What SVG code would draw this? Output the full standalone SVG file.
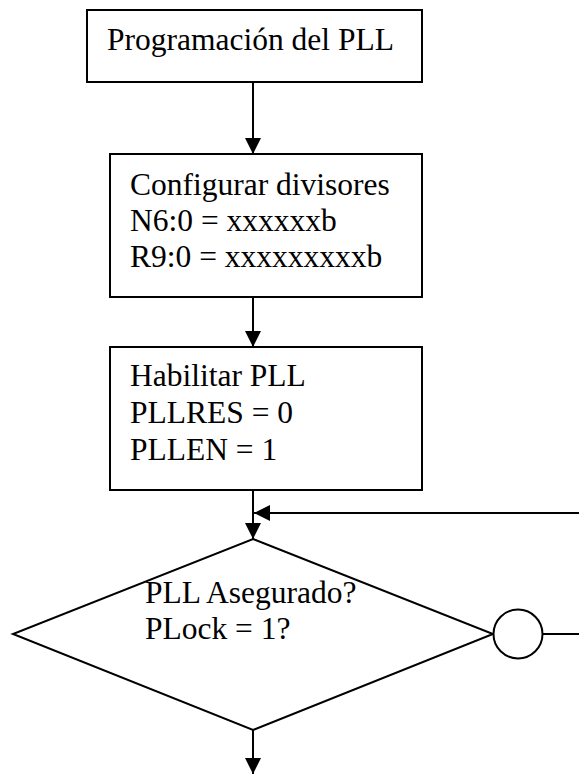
<svg xmlns="http://www.w3.org/2000/svg" width="579" height="774" viewBox="0 0 579 774">
<style>
.s{fill:#fff;stroke:#000;stroke-width:2}
.l{fill:none;stroke:#000;stroke-width:2}
text{font-family:"Liberation Serif","Times New Roman",serif;font-size:31.5px;fill:#000}
</style>
<defs>
<marker id="a" markerUnits="userSpaceOnUse" markerWidth="16" markerHeight="16" refX="16" refY="8" orient="auto" viewBox="0 0 16 16">
<path d="M0,0 L16,8 L0,16 Z" fill="#000"/>
</marker>
</defs>
<rect width="579" height="774" fill="#fff"/>
<g id="connectors">
<line class="l" x1="253" y1="82" x2="253" y2="154" marker-end="url(#a)"/>
<line class="l" x1="253" y1="297" x2="253" y2="347" marker-end="url(#a)"/>
<line class="l" x1="253" y1="490" x2="253" y2="539" marker-end="url(#a)"/>
<line class="l" x1="579" y1="513" x2="254" y2="513" marker-end="url(#a)"/>
<line class="l" x1="542" y1="634" x2="579" y2="634"/>
<line class="l" x1="253" y1="730" x2="253" y2="774" marker-end="url(#a)"/>
</g>
<g id="n1">
<rect class="s" x="87" y="10" width="335" height="72"/>
<text x="107" y="50">Programación del PLL</text>
</g>
<g id="n2">
<rect class="s" x="110" y="154" width="312" height="143"/>
<text x="130" y="195">Configurar divisores</text>
<text x="130" y="231">N6:0 = xxxxxxb</text>
<text x="130" y="267">R9:0 = xxxxxxxxxb</text>
</g>
<g id="n3">
<rect class="s" x="110" y="347" width="312" height="143"/>
<text x="130" y="386">Habilitar PLL</text>
<text x="130" y="423">PLLRES = 0</text>
<text x="130" y="460">PLLEN = 1</text>
</g>
<g id="n4">
<polygon class="s" points="253,539 493,634 253,730 13,634"/>
<text x="145" y="603">PLL Asegurado?</text>
<text x="145" y="639">PLock = 1?</text>
</g>
<g id="n5">
<circle class="s" cx="518" cy="634" r="24.5"/>
</g>
</svg>
